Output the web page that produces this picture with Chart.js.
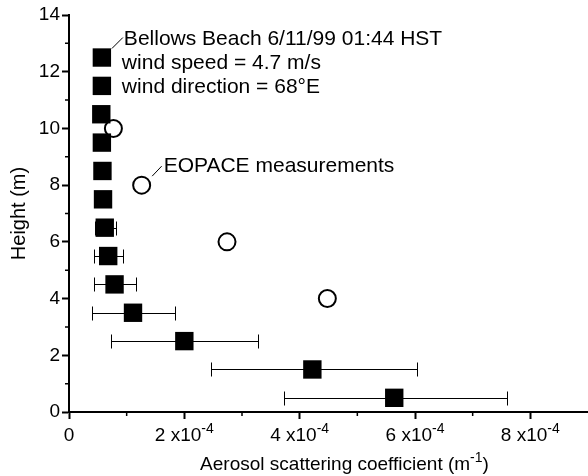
<!DOCTYPE html>
<html>
<head>
<meta charset="utf-8">
<script src="https://cdn.jsdelivr.net/npm/chart.js@4/dist/chart.umd.min.js"></script>
<style>
  html, body { margin: 0; padding: 0; background: #fff; }
  #wrap { width: 588px; height: 476px; }
</style>
</head>
<body>
<div id="wrap"><canvas id="chart" width="588" height="476"></canvas></div>
<script>
// Bellows Beach profile (filled squares, with horizontal error bars)
const heights = [12.5, 11.5, 10.5, 9.5, 8.5, 7.5, 6.5, 5.5, 4.5, 3.5, 2.5, 1.5, 0.5];
const scatMean = [0.57e-4, 0.57e-4, 0.56e-4, 0.57e-4, 0.58e-4, 0.59e-4, 0.62e-4, 0.68e-4, 0.79e-4, 1.11e-4, 2.0e-4, 4.22e-4, 5.64e-4];
const scatLow = [0.5e-4, 0.5e-4, 0.5e-4, 0.5e-4, 0.5e-4, 0.5e-4, 0.45e-4, 0.44e-4, 0.44e-4, 0.40e-4, 0.72e-4, 2.46e-4, 3.73e-4];
const scatHigh = [0.64e-4, 0.64e-4, 0.63e-4, 0.64e-4, 0.66e-4, 0.68e-4, 0.81e-4, 0.94e-4, 1.17e-4, 1.84e-4, 3.28e-4, 6.04e-4, 7.59e-4];

// EOPACE measurements (open circles)
const eopaceHeights = [10, 8, 6, 4];
const eopaceScat = [0.77e-4, 1.26e-4, 2.74e-4, 4.48e-4];

// axis ticks
const xTickValues = [0, 2e-4, 4e-4, 6e-4, 8e-4];
const xTickMantissa = ['0', '2', '4', '6', '8'];
const xMinorTicks = [1e-4, 3e-4, 5e-4, 7e-4];
const yMinorTicks = [1, 3, 5, 7, 9, 11, 13];

const noteLines = ['Bellows Beach 6/11/99 01:44 HST', 'wind speed = 4.7 m/s', 'wind direction = 68\u00B0E'];
const eopaceNote = 'EOPACE measurements';

const FONT = '"Liberation Sans", Arial, Helvetica, sans-serif';

// draws a "2 x10^-4" style text with superscript, starting at x
function supText(ctx, x, y, base, sup, size, supSize, rise) {
  ctx.font = size + 'px ' + FONT;
  ctx.fillText(base, x, y);
  const w = ctx.measureText(base).width;
  ctx.font = supSize + 'px ' + FONT;
  ctx.fillText(sup, x + w, y - rise);
  return w + ctx.measureText(sup).width;
}
function supWidth(ctx, base, sup, size, supSize) {
  ctx.font = size + 'px ' + FONT;
  const w = ctx.measureText(base).width;
  ctx.font = supSize + 'px ' + FONT;
  return w + ctx.measureText(sup).width;
}

const extras = {
  id: 'extras',
  beforeDatasetsDraw(chart) {
    const { ctx, scales: { x, y } } = chart;
    ctx.save();
    ctx.strokeStyle = '#000';
    ctx.lineWidth = 1;
    heights.forEach((h, i) => {
      const py = Math.round(y.getPixelForValue(h)) + 0.5;
      const x1 = Math.round(x.getPixelForValue(scatLow[i])) + 0.5;
      const x2 = Math.round(x.getPixelForValue(scatHigh[i])) + 0.5;
      ctx.beginPath();
      ctx.moveTo(x1, py); ctx.lineTo(x2, py);
      ctx.moveTo(x1, py - 7); ctx.lineTo(x1, py + 7);
      ctx.moveTo(x2, py - 7); ctx.lineTo(x2, py + 7);
      ctx.stroke();
    });
    ctx.restore();
  },
  afterDraw(chart) {
    const { ctx, chartArea, scales: { x, y } } = chart;
    ctx.save();
    ctx.strokeStyle = '#000';
    ctx.fillStyle = '#000';

    // minor ticks
    ctx.lineWidth = 1.5;
    ctx.beginPath();
    yMinorTicks.forEach(v => {
      const py = y.getPixelForValue(v);
      ctx.moveTo(chartArea.left - 4, py); ctx.lineTo(chartArea.left, py);
    });
    xMinorTicks.forEach(v => {
      const px = x.getPixelForValue(v);
      ctx.moveTo(px, chartArea.bottom); ctx.lineTo(px, chartArea.bottom + 4);
    });
    ctx.stroke();

    // x tick labels with superscript exponent
    ctx.textAlign = 'left';
    ctx.textBaseline = 'alphabetic';
    xTickValues.forEach((v, i) => {
      const px = x.getPixelForValue(v);
      if (v === 0) {
        ctx.font = '19px ' + FONT;
        ctx.textAlign = 'center';
        ctx.fillText(xTickMantissa[i], px, 441);
        ctx.textAlign = 'left';
        return;
      }
      const base = xTickMantissa[i] + ' x10';
      const w = supWidth(ctx, base, '-4', 19, 14);
      supText(ctx, px - w / 2, 441, base, '-4', 19, 14, 8);
    });

    // x axis title
    const tBase = 'Aerosol scattering coefficient (m';
    ctx.font = '19px ' + FONT;
    const closeW = ctx.measureText(')').width;
    const tw = supWidth(ctx, tBase, '-1', 19, 14) + closeW;
    const tx = (chartArea.left + chartArea.right) / 2 + 16 - tw / 2;
    const w1 = supText(ctx, tx, 470, tBase, '-1', 19, 14, 8);
    ctx.font = '19px ' + FONT;
    ctx.fillText(')', tx + w1, 470);

    // annotation for the Bellows Beach profile
    const sq = chart.getDatasetMeta(0).data[0];
    ctx.lineWidth = 1;
    ctx.beginPath();
    ctx.moveTo(sq.x + 10, sq.y - 9);
    ctx.lineTo(sq.x + 21, sq.y - 20);
    ctx.stroke();
    ctx.font = '21px ' + FONT;
    ctx.fillText(noteLines[0], sq.x + 22, sq.y - 12.5);
    ctx.fillText(noteLines[1], sq.x + 20, sq.y + 11.5);
    ctx.fillText(noteLines[2], sq.x + 20, sq.y + 35.5);

    // annotation for EOPACE circles
    const c = chart.getDatasetMeta(1).data[1];
    ctx.beginPath();
    ctx.moveTo(c.x + 10.5, c.y - 9);
    ctx.lineTo(c.x + 20, c.y - 19);
    ctx.stroke();
    ctx.fillText(eopaceNote, c.x + 22, c.y - 13.5);

    ctx.restore();
  }
};

new Chart(document.getElementById('chart'), {
  type: 'scatter',
  data: {
    datasets: [
      {
        label: 'Bellows Beach',
        data: heights.map((h, i) => ({ x: scatMean[i], y: h })),
        pointStyle: 'rect',
        pointRadius: 13,
        backgroundColor: '#000',
        borderWidth: 0
      },
      {
        label: 'EOPACE measurements',
        data: eopaceHeights.map((h, i) => ({ x: eopaceScat[i], y: h })),
        pointStyle: 'circle',
        pointRadius: 8.5,
        backgroundColor: '#fff',
        borderColor: '#000',
        borderWidth: 2
      }
    ]
  },
  options: {
    responsive: false,
    animation: false,
    events: [],
    layout: { autoPadding: false, padding: { top: 15, right: 0, left: 0, bottom: 0 } },
    plugins: { legend: { display: false }, tooltip: { enabled: false } },
    scales: {
      x: {
        type: 'linear',
        min: 0,
        max: 9e-4,
        afterFit: s => { s.height = 64; },
        ticks: { stepSize: 2e-4, display: false, includeBounds: false },
        grid: { drawOnChartArea: false, drawTicks: true, tickLength: 7, tickWidth: 2, tickColor: '#000' },
        border: { display: true, color: '#000', width: 2 }
      },
      y: {
        type: 'linear',
        min: 0,
        max: 14,
        afterFit: s => { s.width = 69; },
        ticks: { stepSize: 2, color: '#000', padding: 2, font: { family: FONT, size: 19 } },
        grid: { drawOnChartArea: false, drawTicks: true, tickLength: 7, tickWidth: 2, tickColor: '#000' },
        border: { display: true, color: '#000', width: 2 },
        title: { display: true, text: 'Height (m)', color: '#000', padding: { top: 7, bottom: 0 }, font: { family: FONT, size: 20 } }
      }
    }
  },
  plugins: [extras]
});
</script>
</body>
</html>
